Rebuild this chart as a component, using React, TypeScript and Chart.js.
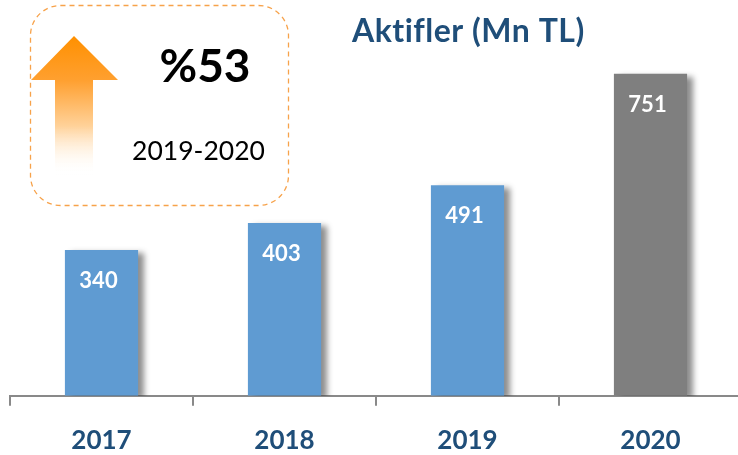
import React, { useEffect, useRef } from "react";
import { Chart, registerables } from "chart.js";

Chart.register(...registerables);

const categories = ["2017", "2018", "2019", "2020"];
const values = [340, 403, 491, 751];
const barColors = ["#5f9bd2", "#5f9bd2", "#5f9bd2", "#7f7f7f"];
const titleText = "Aktifler (Mn TL)";
const growthText = "%53";
const periodText = "2019-2020";

const FONT = "Lato, 'Open Sans', sans-serif";

const decorPlugin = {
  id: "decor",
  beforeDatasetsDraw(chart: any) {
    const ctx = chart.ctx;
    ctx.save();
    ctx.shadowColor = "rgba(0,0,0,0.45)";
    ctx.shadowBlur = 6;
    ctx.shadowOffsetX = 6;
    ctx.shadowOffsetY = 3;
  },
  afterDatasetsDraw(chart: any) {
    const ctx = chart.ctx;
    ctx.restore();
    const meta = chart.getDatasetMeta(0);
    ctx.save();
    ctx.fillStyle = "#ffffff";
    ctx.font = `bold 22px ${FONT}`;
    ctx.textAlign = "center";
    ctx.textBaseline = "middle";
    meta.data.forEach((bar: any, i: number) => {
      ctx.fillText(String(values[i]), bar.x - 3, bar.y + 31);
    });
    ctx.restore();
  },
  afterDraw(chart: any) {
    const ctx = chart.ctx;
    ctx.save();
    // title
    ctx.fillStyle = "#1f4e79";
    ctx.font = `bold 32px ${FONT}`;
    ctx.textAlign = "left";
    ctx.textBaseline = "alphabetic";
    (ctx as any).letterSpacing = "0.5px";
    ctx.fillText(titleText, 352, 42);
    (ctx as any).letterSpacing = "0px";

    // dashed rounded box
    ctx.strokeStyle = "#f7a24a";
    ctx.lineWidth = 1.3;
    ctx.setLineDash([5, 4]);
    ctx.beginPath();
    ctx.roundRect(30.5, 5.5, 258, 200, 30);
    ctx.stroke();
    ctx.setLineDash([]);

    // arrow
    const g = ctx.createLinearGradient(0, 36, 0, 175);
    g.addColorStop(0, "#ff9000");
    g.addColorStop(0.32, "#ffa030");
    g.addColorStop(0.65, "#ffd29a");
    g.addColorStop(1, "rgba(255,255,255,0)");
    ctx.fillStyle = g;
    ctx.beginPath();
    ctx.moveTo(74, 36);
    ctx.lineTo(118, 80);
    ctx.lineTo(93, 80);
    ctx.lineTo(93, 175);
    ctx.lineTo(55, 175);
    ctx.lineTo(55, 80);
    ctx.lineTo(31, 80);
    ctx.closePath();
    ctx.fill();

    // texts
    ctx.fillStyle = "#000000";
    ctx.textAlign = "center";
    ctx.font = `bold 46px ${FONT}`;
    ctx.fillText(growthText, 205, 82);
    ctx.font = `26.5px ${FONT}`;
    ctx.fillText(periodText, 198.5, 160);
    ctx.restore();
  },
};

export default function App() {
  const ref = useRef<HTMLCanvasElement>(null);
  useEffect(() => {
    if (!ref.current) return;
    const chart = new Chart(ref.current, {
      type: "bar",
      data: {
        labels: categories,
        datasets: [
          {
            data: values,
            backgroundColor: barColors,
            borderWidth: 0,
            categoryPercentage: 1,
            barPercentage: 0.4,
          },
        ],
      },
      options: {
        animation: false,
        responsive: false,
        events: [],
        layout: { padding: { left: 10, right: 18, top: 10, bottom: 0 } },
        plugins: {
          legend: { display: false },
          tooltip: { enabled: false },
          title: { display: false },
        },
        scales: {
          x: {
            grid: {
              display: true,
              drawOnChartArea: false,
              drawTicks: true,
              tickLength: 10,
              color: "#898989",
              lineWidth: 2,
            },
            border: { display: true, color: "#898989", width: 2 },
            ticks: {
              color: "#1f4e79",
              font: { family: FONT, weight: "bold", size: 26 },
              padding: 19,
            },
          },
          y: {
            display: false,
            min: 0,
            max: 900,
          },
        },
      },
      plugins: [decorPlugin],
    });
    return () => chart.destroy();
  }, []);
  return (
    <div
      style={{
        position: "absolute",
        left: 0,
        top: 0,
        width: 738,
        height: 455,
        overflow: "hidden",
        background: "#ffffff",
      }}
    >
      <canvas ref={ref} width={760} height={475} style={{ display: "block" }} />
    </div>
  );
}
